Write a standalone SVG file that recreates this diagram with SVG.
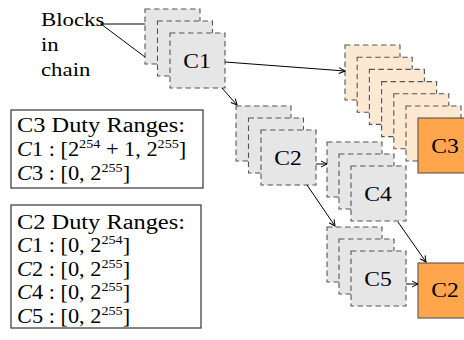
<svg xmlns="http://www.w3.org/2000/svg" width="464" height="340" viewBox="0 0 464 340">
<defs>
<style>
text{font-family:"Liberation Serif","Times New Roman","DejaVu Serif",serif;fill:#000;}
.g{fill:#e6e6e6;stroke:#555;stroke-width:1.1;stroke-dasharray:5.5,3.5;}
.lo{fill:#fde8d2;stroke:#555;stroke-width:1.1;stroke-dasharray:5.5,3.5;}
.o{fill:#ffa64d;stroke:#555;stroke-width:1.1;}
.lbl{font-size:20.5px;text-anchor:middle;}
.box{fill:#fff;stroke:#333;stroke-width:1.2;}
.bt{font-size:20.5px;}
.bl{font-size:19.5px;}
.sup{font-size:13px;}
.c{stroke:#000;stroke-width:1;fill:none;}
</style>
<marker id="ah" viewBox="0 0 8 8" refX="7" refY="4" markerWidth="8" markerHeight="8" markerUnits="userSpaceOnUse" orient="auto">
<path d="M1,1 L7,4 L1,7" fill="none" stroke="#000" stroke-width="1"/>
</marker>
</defs>
<rect width="464" height="340" fill="#fff"/>

<g id="c3stack">
<rect class="lo" x="345" y="45" width="55" height="55"/>
<rect class="lo" x="357.2" y="57.2" width="55" height="55"/>
<rect class="lo" x="369.4" y="69.4" width="55" height="55"/>
<rect class="lo" x="381.6" y="81.6" width="55" height="55"/>
<rect class="lo" x="393.8" y="93.8" width="55" height="55"/>
<rect class="lo" x="406" y="106" width="55" height="55"/>
<rect class="o" x="418" y="118" width="55" height="55"/>
<text class="lbl" transform="matrix(1.15 0 0 1 445 153)">C3</text>
</g>

<g id="c1stack">
<rect class="g" x="145" y="9" width="55" height="55"/>
<rect class="g" x="157.5" y="21" width="55" height="55"/>
<rect class="g" x="170" y="33" width="55" height="55"/>
<text class="lbl" transform="matrix(1.15 0 0 1 197 68)">C1</text>
</g>

<g id="c2stack">
<rect class="g" x="236" y="106" width="55" height="55"/>
<rect class="g" x="248.5" y="118" width="55" height="55"/>
<rect class="g" x="261" y="130" width="55" height="55"/>
<text class="lbl" transform="matrix(1.15 0 0 1 288 165)">C2</text>
</g>

<g id="c4stack">
<rect class="g" x="327" y="142" width="55" height="55"/>
<rect class="g" x="339" y="154" width="55" height="55"/>
<rect class="g" x="351" y="166" width="55" height="55"/>
<text class="lbl" transform="matrix(1.15 0 0 1 378 201)">C4</text>
</g>

<g id="c5stack">
<rect class="g" x="327" y="227" width="55" height="55"/>
<rect class="g" x="339" y="239" width="55" height="55"/>
<rect class="g" x="351" y="251" width="55" height="55"/>
<text class="lbl" transform="matrix(1.15 0 0 1 378 286)">C5</text>
</g>

<g id="c2final">
<rect class="o" x="418" y="263" width="55" height="55"/>
<text class="lbl" transform="matrix(1.15 0 0 1 445 297)">C2</text>
</g>

<g id="blocks-label">
<text class="bl" transform="matrix(1.17 0 0 1 41 26)">Blocks</text>
<text class="bl" transform="matrix(1.17 0 0 1 41 51)">in</text>
<text class="bl" transform="matrix(1.17 0 0 1 41 76)">chain</text>
</g>

<g id="c3duty">
<rect class="box" x="11" y="110" width="192" height="78"/>
<text class="bt" transform="matrix(1.19 0 0 1 17 132)">C3 Duty Ranges:</text>
<text class="bt" transform="matrix(1.09 0 0 1 17 156)"><tspan font-style="italic">C</tspan>1 : [2<tspan class="sup" dy="-8">254</tspan><tspan dy="8"> + 1, 2</tspan><tspan class="sup" dy="-8">255</tspan><tspan dy="8">]</tspan></text>
<text class="bt" transform="matrix(1.09 0 0 1 17 180)"><tspan font-style="italic">C</tspan>3 : [0, 2<tspan class="sup" dy="-8">255</tspan><tspan dy="8">]</tspan></text>
</g>

<g id="c2duty">
<rect class="box" x="11" y="205" width="190" height="123"/>
<text class="bt" transform="matrix(1.19 0 0 1 17 229)">C2 Duty Ranges:</text>
<text class="bt" transform="matrix(1.09 0 0 1 17 252)"><tspan font-style="italic">C</tspan>1 : [0, 2<tspan class="sup" dy="-8">254</tspan><tspan dy="8">]</tspan></text>
<text class="bt" transform="matrix(1.09 0 0 1 17 275.5)"><tspan font-style="italic">C</tspan>2 : [0, 2<tspan class="sup" dy="-8">255</tspan><tspan dy="8">]</tspan></text>
<text class="bt" transform="matrix(1.09 0 0 1 17 299)"><tspan font-style="italic">C</tspan>4 : [0, 2<tspan class="sup" dy="-8">255</tspan><tspan dy="8">]</tspan></text>
<text class="bt" transform="matrix(1.09 0 0 1 17 322.5)"><tspan font-style="italic">C</tspan>5 : [0, 2<tspan class="sup" dy="-8">255</tspan><tspan dy="8">]</tspan></text>
</g>

<g id="connectors">
<line class="c" x1="100" y1="24" x2="145" y2="24"/>
<line class="c" x1="101" y1="24" x2="145" y2="57"/>
<line class="c" x1="225" y1="62" x2="345" y2="71" marker-end="url(#ah)"/>
<line class="c" x1="222" y1="88" x2="237" y2="105" marker-end="url(#ah)"/>
<line class="c" x1="316" y1="164" x2="327" y2="164" marker-end="url(#ah)"/>
<line class="c" x1="307" y1="185" x2="335" y2="226" marker-end="url(#ah)"/>
<line class="c" x1="398" y1="222" x2="426" y2="262" marker-end="url(#ah)"/>
<line class="c" x1="406" y1="284" x2="418" y2="284" marker-end="url(#ah)"/>
</g>
</svg>
